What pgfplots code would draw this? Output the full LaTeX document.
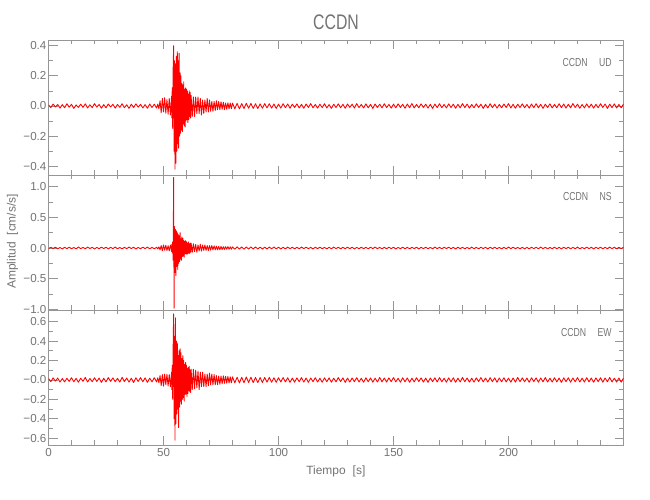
\documentclass[border=0pt]{standalone}
\usepackage{pgfplots}
\usepackage{pgfplotstable}
\pgfplotsset{compat=1.18}
\usepackage{fontspec}
\setmainfont{Liberation Sans}
\newfontfamily\narrowfont{Liberation Sans}[FakeStretch=0.75]
\definecolor{txtgray}{RGB}{115,115,115}
\definecolor{axgray}{RGB}{150,150,150}
\definecolor{trace}{RGB}{255,0,0}

\pgfplotstableread{
t ud ns ew
0 0.008 -0.010 0.015
1 -0.011 0.012 -0.018
2 0.013 -0.009 0.021
3 -0.007 0.014 -0.012
4 0.010 -0.013 0.019
5 -0.014 0.008 -0.022
6 0.009 -0.015 0.014
7 -0.012 0.011 -0.020
8 0.015 -0.010 0.017
9 -0.008 0.013 -0.015
10 0.011 -0.012 0.023
11 -0.016 0.009 -0.019
12 0.007 -0.014 0.016
13 -0.010 0.016 -0.024
14 0.012 -0.011 0.018
15 -0.009 0.010 -0.014
16 0.014 -0.013 0.026
17 -0.013 0.015 -0.021
18 0.008 -0.008 0.015
19 -0.011 0.012 -0.018
20 0.016 -0.016 0.022
21 -0.008 0.010 -0.016
22 0.010 -0.012 0.019
23 -0.015 0.014 -0.025
24 0.009 -0.009 0.017
25 -0.012 0.013 -0.020
26 0.013 -0.015 0.024
27 -0.007 0.011 -0.015
28 0.011 -0.010 0.021
29 -0.014 0.016 -0.018
30 0.010 -0.013 0.016
31 -0.009 0.009 -0.022
32 0.015 -0.014 0.027
33 -0.012 0.012 -0.017
34 0.008 -0.011 0.020
35 -0.016 0.015 -0.023
36 0.012 -0.009 0.018
37 -0.010 0.013 -0.026
38 0.014 -0.016 0.022
39 -0.008 0.010 -0.016
40 0.011 -0.012 0.024
41 -0.013 0.014 -0.019
42 0.009 -0.010 0.021
43 -0.015 0.015 -0.025
44 0.013 -0.013 0.018
45 -0.010 0.011 -0.020
46 0.012 -0.014 0.023
47 -0.014 0.012 -0.021
47.5 0.012 -0.015 0.022
48.0 -0.018 0.018 -0.028
48.5 0.035 -0.030 0.045
49.0 -0.045 0.040 -0.060
49.5 0.050 -0.045 0.055
50.0 -0.040 0.050 -0.065
50.5 0.055 -0.035 0.060
51.0 -0.048 0.045 -0.050
51.5 0.042 -0.040 0.058
52.0 -0.055 0.038 -0.062
52.5 0.050 -0.048 0.055
53.0 -0.060 0.050 -0.070
53.5 0.065 -0.055 0.080
53.6 -0.08 0.06 -0.10
53.8 0.12 -0.08 0.15
54.0 -0.15 0.10 -0.20
54.2 0.25 -0.20 0.35
54.4 0.40 1.15 0.68
54.6 -0.30 -0.98 -0.40
54.8 0.30 0.35 0.45
55.0 -0.42 -0.40 -0.62
55.2 0.28 0.30 0.64
55.4 -0.38 -0.45 -0.45
55.6 0.33 0.28 0.40
55.8 -0.30 -0.30 -0.35
56.0 0.36 0.25 0.38
56.2 -0.25 -0.35 -0.30
56.4 0.30 0.22 0.25
56.6 -0.28 -0.25 -0.49
56.8 0.35 0.20 0.30
57.0 -0.20 -0.22 -0.28
57.2 0.22 0.25 0.32
57.4 -0.18 -0.18 -0.22
57.6 0.20 0.15 0.28
57.8 -0.16 -0.20 -0.25
58.0 0.15 0.18 0.22
58.2 -0.17 -0.14 -0.20
58.4 0.14 0.16 0.25
58.6 -0.12 -0.13 -0.18
58.8 0.16 0.12 0.20
59.0 -0.13 -0.15 -0.22
59.2 0.11 0.11 0.16
59.4 -0.14 -0.10 -0.15
59.6 0.12 0.12 0.18
59.8 -0.10 -0.09 -0.14
60.0 0.11 0.10 0.15
60.2 -0.09 -0.11 -0.17
60.4 0.10 0.08 0.12
60.6 -0.11 -0.09 -0.14
60.8 0.08 0.10 0.13
61.0 -0.09 -0.08 -0.11
61.2 0.10 0.07 0.14
61.4 -0.07 -0.09 -0.12
61.6 0.09 0.08 0.10
61.8 -0.08 -0.07 -0.13
62.0 0.07 0.08 0.11
62.5 -0.07 -0.07 -0.10
63.0 0.06 0.07 0.11
63.5 -0.07 -0.06 -0.09
64.0 0.06 0.06 0.10
64.5 -0.05 -0.07 -0.08
65.0 0.06 0.05 0.09
65.5 -0.05 -0.05 -0.10
66.0 0.05 0.06 0.08
66.5 -0.06 -0.05 -0.07
67.0 0.04 0.05 0.08
67.5 -0.05 -0.04 -0.07
68.0 0.04 0.05 0.06
68.5 -0.04 -0.04 -0.07
69.0 0.05 0.04 0.06
69.5 -0.04 -0.04 -0.06
70.0 0.04 0.04 0.07
70.5 -0.035 -0.035 -0.05
71.0 0.03 0.04 0.06
71.5 -0.035 -0.03 -0.05
72.0 0.03 0.035 0.055
72.5 -0.03 -0.03 -0.05
73.0 0.035 0.03 0.045
73.5 -0.025 -0.03 -0.05
74.0 0.03 0.025 0.04
74.5 -0.025 -0.028 -0.045
75.0 0.028 0.025 0.04
75.5 -0.022 -0.025 -0.038
76.0 0.025 0.022 0.042
76.5 -0.024 -0.024 -0.035
77.0 0.02 0.022 0.038
77.5 -0.022 -0.02 -0.034
78.0 0.021 0.023 0.036
78.5 -0.019 -0.02 -0.032
79.0 0.02 0.019 0.033
79.5 -0.018 -0.02 -0.03
80.0 0.019 0.018 0.031
81 -0.018 -0.019 -0.030
82 0.017 0.020 0.028
83 -0.019 -0.017 -0.031
84 0.016 0.018 0.027
85 -0.017 -0.019 -0.029
86 0.018 0.016 0.030
87 -0.015 -0.018 -0.026
88 0.017 0.017 0.028
89 -0.016 -0.015 -0.027
90 0.015 0.017 0.025
91 -0.017 -0.016 -0.028
92 0.014 0.015 0.024
93 -0.015 -0.017 -0.026
94 0.016 0.014 0.025
95 -0.013 -0.016 -0.023
96 0.015 0.015 0.026
97 -0.014 -0.013 -0.024
98 0.013 0.016 0.022
99 -0.016 -0.014 -0.025
100 0.012 0.013 0.023
101 -0.014 -0.015 -0.021
102 0.015 0.012 0.024
103 -0.011 -0.014 -0.020
104 0.013 0.015 0.022
105 -0.015 -0.011 -0.025
106 0.012 0.013 0.019
107 -0.010 -0.014 -0.023
108 0.014 0.012 0.021
109 -0.013 -0.013 -0.018
110 0.011 0.015 0.024
111 -0.015 -0.010 -0.022
112 0.013 0.014 0.019
113 -0.010 -0.012 -0.025
114 0.016 0.011 0.020
115 -0.012 -0.015 -0.018
116 0.010 0.013 0.023
117 -0.014 -0.011 -0.021
118 0.012 0.014 0.017
119 -0.011 -0.012 -0.024
120 0.015 0.010 0.022
121 -0.013 -0.014 -0.019
122 0.009 0.012 0.021
123 -0.016 -0.013 -0.023
124 0.012 0.015 0.018
125 -0.010 -0.010 -0.020
126 0.014 0.013 0.024
127 -0.012 -0.014 -0.017
128 0.011 0.011 0.021
129 -0.015 -0.012 -0.025
130 0.013 0.014 0.019
131 -0.009 -0.011 -0.022
132 0.012 0.013 0.020
133 -0.014 -0.015 -0.018
134 0.016 0.010 0.023
135 -0.011 -0.013 -0.021
136 0.010 0.014 0.017
137 -0.013 -0.011 -0.024
138 0.014 0.012 0.022
139 -0.012 -0.014 -0.019
140 0.011 0.013 0.020
141 -0.016 -0.010 -0.023
142 0.013 0.015 0.018
143 -0.010 -0.012 -0.021
144 0.012 0.011 0.025
145 -0.013 -0.014 -0.020
146 0.015 0.012 0.019
147 -0.011 -0.013 -0.022
148 0.010 0.014 0.021
149 -0.014 -0.011 -0.018
150 0.012 0.013 0.024
151 -0.012 -0.015 -0.020
152 0.014 0.010 0.017
153 -0.010 -0.012 -0.023
154 0.011 0.014 0.022
155 -0.015 -0.013 -0.019
156 0.013 0.011 0.020
157 -0.011 -0.014 -0.024
158 0.016 0.012 0.018
159 -0.013 -0.010 -0.021
160 0.010 0.013 0.023
161 -0.012 -0.015 -0.017
162 0.014 0.012 0.021
163 -0.010 -0.011 -0.022
164 0.012 0.014 0.019
165 -0.014 -0.012 -0.025
166 0.011 0.010 0.020
167 -0.016 -0.013 -0.018
168 0.013 0.015 0.022
169 -0.011 -0.011 -0.021
170 0.015 0.012 0.024
171 -0.012 -0.014 -0.019
172 0.010 0.013 0.017
173 -0.013 -0.010 -0.023
174 0.014 0.014 0.021
175 -0.010 -0.012 -0.020
176 0.012 0.011 0.022
177 -0.015 -0.015 -0.024
178 0.011 0.013 0.018
179 -0.012 -0.011 -0.021
180 0.016 0.012 0.025
181 -0.011 -0.014 -0.019
182 0.013 0.010 0.020
183 -0.014 -0.013 -0.022
184 0.010 0.015 0.018
185 -0.012 -0.012 -0.023
186 0.014 0.011 0.021
187 -0.010 -0.014 -0.017
188 0.012 0.013 0.024
189 -0.016 -0.010 -0.020
190 0.011 0.012 0.019
191 -0.013 -0.015 -0.022
192 0.015 0.014 0.023
193 -0.011 -0.011 -0.018
194 0.012 0.013 0.021
195 -0.014 -0.012 -0.024
196 0.010 0.010 0.020
197 -0.012 -0.014 -0.019
198 0.013 0.012 0.022
199 -0.010 -0.013 -0.021
200 0.016 0.015 0.018
201 -0.013 -0.011 -0.023
202 0.011 0.014 0.020
203 -0.015 -0.012 -0.022
204 0.012 0.010 0.025
205 -0.010 -0.013 -0.018
206 0.014 0.012 0.021
207 -0.012 -0.015 -0.020
208 0.010 0.011 0.019
209 -0.014 -0.014 -0.024
210 0.013 0.013 0.022
211 -0.011 -0.010 -0.017
212 0.015 0.012 0.021
213 -0.012 -0.013 -0.023
214 0.011 0.015 0.020
215 -0.016 -0.011 -0.019
216 0.012 0.012 0.024
217 -0.010 -0.014 -0.021
218 0.014 0.010 0.018
219 -0.013 -0.012 -0.022
220 0.010 0.014 0.023
221 -0.012 -0.013 -0.020
222 0.015 0.011 0.019
223 -0.011 -0.015 -0.025
224 0.013 0.013 0.021
225 -0.014 -0.010 -0.018
226 0.011 0.012 0.022
227 -0.012 -0.014 -0.023
228 0.016 0.011 0.020
229 -0.010 -0.012 -0.019
230 0.012 0.015 0.024
231 -0.015 -0.013 -0.021
232 0.010 0.010 0.018
233 -0.013 -0.012 -0.022
234 0.014 0.014 0.023
235 -0.011 -0.011 -0.020
236 0.012 0.013 0.019
237 -0.014 -0.015 -0.024
238 0.011 0.012 0.021
239 -0.012 -0.010 -0.018
240 0.015 0.014 0.022
241 -0.010 -0.013 -0.023
242 0.013 0.011 0.020
243 -0.016 -0.012 -0.019
244 0.012 0.015 0.025
245 -0.011 -0.011 -0.021
246 0.014 0.013 0.018
247 -0.013 -0.014 -0.022
248 0.010 0.012 0.020
249 -0.012 -0.010 -0.023
250 0.013 0.013 0.019
}\seis

\pgfplotsset{
  panel/.style={
    scale only axis, width=11.5cm, height=2.7cm, anchor=south west,
    xmin=0, xmax=250,
    axis line style={draw=axgray, line width=0.4pt},
    every tick/.style={draw=axgray, line width=0.4pt},
    tick align=inside,
    major tick length=0.18cm, minor tick length=0.09cm,
    xtick={0,50,100,150,200}, minor xtick={10,20,30,40,60,70,80,90,110,120,130,140,160,170,180,190,210,220,230,240},
    ticklabel style={font=\fontsize{6.6}{7}\selectfont, text=txtgray},
    yticklabel style={inner sep=1pt},
    xticklabel style={inner sep=1.5pt},
    tick pos=both,
  },
  trace/.style={draw=trace, line width=0.5pt, line join=round, no markers},
}

\begin{document}
\begin{tikzpicture}
\useasboundingbox (0,0) rectangle (13,10);

% top: UD
\begin{axis}[panel, at={(0.97cm,6.5cm)},
  ymin=-0.458, ymax=0.438,
  ytick={-0.4,-0.2,0,0.2,0.4},
  yticklabels={−0.4,−0.2,0.0,0.2,0.4},
  minor ytick={-0.3,-0.1,0.1,0.3},
  xticklabels={}]
\addplot[trace] table[x=t,y=ud] {\seis};
\node[anchor=east, text=txtgray, font=\fontsize{6.6}{7}\selectfont\narrowfont, inner sep=0pt] at (rel axis cs:0.98,0.835) {CCDN\hspace{6.5pt}UD};
\end{axis}

% middle: NS
\begin{axis}[panel, at={(0.97cm,3.8cm)},
  ymin=-1.01, ymax=1.19,
  ytick={-1,-0.5,0,0.5,1},
  yticklabels={−1.0,−0.5,0.0,0.5,1.0},
  minor ytick={-0.75,-0.25,0.25,0.75},
  xticklabels={}]
\addplot[trace] table[x=t,y=ns] {\seis};
\node[anchor=east, text=txtgray, font=\fontsize{6.6}{7}\selectfont\narrowfont, inner sep=0pt] at (rel axis cs:0.98,0.839) {CCDN\hspace{6.5pt}NS};
\end{axis}

% bottom: EW
\begin{axis}[panel, at={(0.97cm,1.1cm)},
  ymin=-0.67, ymax=0.72,
  ytick={-0.6,-0.4,-0.2,0,0.2,0.4,0.6},
  yticklabels={−0.6,−0.4,−0.2,−0.0,0.2,0.4,0.6},
  minor ytick={-0.5,-0.3,-0.1,0.1,0.3,0.5},
  xticklabels={0,50,100,150,200}]
\addplot[trace] table[x=t,y=ew] {\seis};
\node[anchor=east, text=txtgray, font=\fontsize{6.6}{7}\selectfont\narrowfont, inner sep=0pt] at (rel axis cs:0.98,0.83) {CCDN\hspace{6.5pt}EW};
\end{axis}

\node[text=txtgray, font=\fontsize{12}{13}\selectfont\narrowfont] at (6.72,9.56) {CCDN};
\node[text=txtgray, font=\fontsize{6.8}{7}\selectfont] at (6.716,0.58) {Tiempo\hspace{4pt}[s]};
\node[text=txtgray, font=\fontsize{6.8}{7}\selectfont, rotate=90] at (0.25,5.17) {Amplitud\hspace{4pt}[cm/s/s]};
\end{tikzpicture}
\end{document}
